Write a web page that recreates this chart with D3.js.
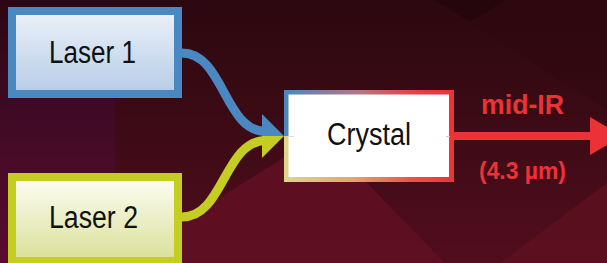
<!DOCTYPE html>
<html>
<head>
<meta charset="utf-8">
<script src="https://cdn.jsdelivr.net/npm/d3@7/dist/d3.min.js"></script>
<style>
  html, body { margin: 0; padding: 0; background: #2e0911; }
  svg { display: block; }
</style>
</head>
<body>
<svg id="chart" width="607" height="263"></svg>
<script>
// ---- content ----
const sourceLabels = ["Laser 1", "Laser 2"];
const targetLabel = "Crystal";
const outputLabels = ["mid-IR", "(4.3 µm)"];

// ---- layout & style ----
const W = 607, H = 263;
const svg = d3.select("#chart");
const defs = svg.append("defs");

const colBlue = "#4a88c1", colYellow = "#c4cd22", colRed = "#ec3237";

function linGrad(id, x1, y1, x2, y2, stops) {
  const g = defs.append("linearGradient").attr("id", id)
    .attr("x1", x1).attr("y1", y1).attr("x2", x2).attr("y2", y2);
  stops.forEach(s => g.append("stop").attr("offset", s[0]).attr("stop-color", s[1]));
  return `url(#${id})`;
}

// background
const bgBase = linGrad("bgBase", 0, 0, 0, 1, [[0, "#2c0810"], [0.5, "#3d0b15"], [1, "#520d1d"]]);
svg.append("rect").attr("width", W).attr("height", H).attr("fill", bgBase);
const leftBand = linGrad("leftBand", 0, 0, 0, 1, [[0, "#2c0713"], [0.45, "#400a25"], [1, "#5a0c2e"]]);
svg.append("rect").attr("x", 0).attr("y", 0).attr("width", 115).attr("height", H).attr("fill", leftBand);

const facets = [
  { pts: [[115, 263], [283, 158], [335, 150], [445, 263]], fill: "#5f0f22", op: 0.9 },
  { pts: [[500, 263], [607, 183], [607, 263]], fill: "#5c0f20", op: 0.9 },
  { pts: [[435, 0], [470, 22], [505, 0]], fill: "#22050b", op: 0.6 },
  { pts: [[470, 22], [607, 110], [607, 0], [505, 0]], fill: "#2f0810", op: 0.4 }
];
svg.selectAll("polygon.facet").data(facets).join("polygon")
  .attr("class", "facet")
  .attr("points", d => d.pts.map(p => p.join(",")).join(" "))
  .attr("fill", d => d.fill)
  .attr("opacity", d => d.op || 1);

// node boxes
const nodes = [
  { label: sourceLabels[0], x: 8, y: 7, w: 174, h: 91, border: colBlue, top: "#eaeff8", bot: "#b8cee8", tx: 92.5, ty: 63, tl: 87 },
  { label: sourceLabels[1], x: 8, y: 173, w: 174, h: 92, border: colYellow, top: "#fbfcf0", bot: "#dbe19c", tx: 93.5, ty: 228, tl: 89 }
];
nodes.forEach((n, i) => {
  const fillG = linGrad("nf" + i, 0, 0, 0, 1, [[0, n.top], [1, n.bot]]);
  svg.append("rect").attr("x", n.x).attr("y", n.y).attr("width", n.w).attr("height", n.h).attr("fill", n.border);
  svg.append("rect").attr("x", n.x + 8).attr("y", n.y + 8).attr("width", n.w - 16).attr("height", n.h - 16).attr("fill", fillG);
  svg.append("text").attr("x", n.tx).attr("y", n.ty)
    .attr("text-anchor", "middle")
    .attr("font-family", "'Liberation Sans Narrow', 'Liberation Sans', Arial, sans-serif")
    .attr("font-size", 31).attr("fill", "#111")
    .attr("textLength", n.tl).attr("lengthAdjust", "spacingAndGlyphs")
    .text(n.label);
});

// curved beams into crystal
const link = d3.linkHorizontal();
const beams = [
  { source: [182, 53], target: [266, 131.5], color: colBlue, head: [[262, 114], [284, 136], [262, 136]] },
  { source: [182, 217], target: [266, 140.5], color: colYellow, head: [[262, 158], [284, 136], [262, 136]] }
];
beams.forEach(b => {
  svg.append("path").attr("d", link({ source: b.source, target: b.target }))
    .attr("fill", "none").attr("stroke", b.color).attr("stroke-width", 9);
  svg.append("polygon").attr("points", b.head.map(p => p.join(",")).join(" ")).attr("fill", b.color);
});

// crystal box with gradient border
const cx = 284, cy = 90, cw = 170, ch = 92, mid = 136;
const topG = linGrad("cTop", 0, 0, 1, 0, [[0, "#4a88c1"], [0.45, "#b67585"], [0.75, "#e8404a"], [1, colRed]]);
const botG = linGrad("cBot", 0, 0, 1, 0, [[0, "#ddd78a"], [0.4, "#e2a866"], [0.75, "#ea5440"], [1, colRed]]);
svg.append("rect").attr("x", cx).attr("y", cy).attr("width", cw).attr("height", mid - cy).attr("fill", topG);
svg.append("rect").attr("x", cx).attr("y", mid).attr("width", cw).attr("height", cy + ch - mid).attr("fill", botG);
svg.append("rect").attr("x", cx + 4.5).attr("y", cy + 4.5).attr("width", cw - 9.5).attr("height", ch - 9.5).attr("fill", "#ffffff");
svg.append("line").attr("x1", 289).attr("x2", 294).attr("y1", 136.5).attr("y2", 136.5).attr("stroke", "#e8d8d8").attr("stroke-width", 1);
svg.append("line").attr("x1", 446).attr("x2", 450).attr("y1", 136.5).attr("y2", 136.5).attr("stroke", "#f2b8b8").attr("stroke-width", 1);
svg.append("text").attr("x", 369).attr("y", 145)
  .attr("text-anchor", "middle")
  .attr("font-family", "'Liberation Sans Narrow', 'Liberation Sans', Arial, sans-serif")
  .attr("font-size", 31).attr("fill", "#111")
  .attr("textLength", 84).attr("lengthAdjust", "spacingAndGlyphs")
  .text(targetLabel);

// output beam
svg.append("line").attr("x1", 454).attr("x2", 592).attr("y1", 136).attr("y2", 136)
  .attr("stroke", colRed).attr("stroke-width", 8);
svg.append("polygon").attr("points", "590,117 622,136 590,155").attr("fill", colRed);

const outLayout = [ { y: 114, size: 27, tl: 83 }, { y: 179, size: 24, tl: 87 } ];
svg.selectAll("text.out").data(outputLabels).join("text")
  .attr("class", "out")
  .attr("x", 522.5).attr("y", (d, i) => outLayout[i].y)
  .attr("text-anchor", "middle")
  .attr("font-family", "'Liberation Sans Narrow', 'Liberation Sans', Arial, sans-serif")
  .attr("font-weight", "bold")
  .attr("font-size", (d, i) => outLayout[i].size)
  .attr("textLength", (d, i) => outLayout[i].tl).attr("lengthAdjust", "spacingAndGlyphs")
  .attr("fill", colRed)
  .text(d => d);
</script>
</body>
</html>
